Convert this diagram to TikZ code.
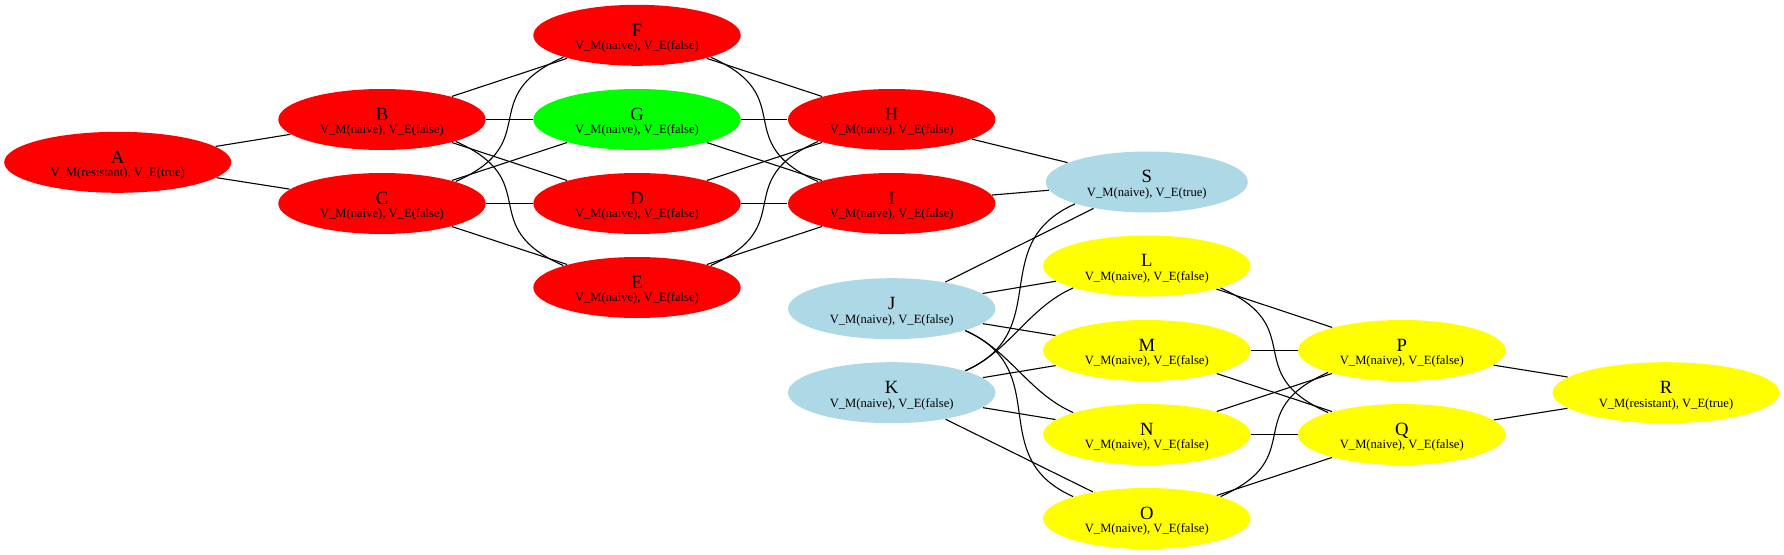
\documentclass[tikz,border=0pt]{standalone}
\usepackage{fontspec}
\setmainfont{Liberation Serif}
\usetikzlibrary{shapes.geometric}
\definecolor{lblue}{HTML}{ADD8E6}
\definecolor{sred}{HTML}{FF0000}
\definecolor{sgreen}{HTML}{00FF00}
\definecolor{syellow}{HTML}{FFFF00}
\newcommand{\smallfnt}{\fontsize{12.6}{13.6}\selectfont}
\begin{document}
\begin{tikzpicture}[x=1pt,y=-1pt,line width=1.1pt,
	st/.style={ellipse, minimum width=207.4pt, minimum height=61pt, inner sep=0pt, align=center,
		font=\fontsize{18.67}{13.6}\selectfont, text height=28.6pt, text depth=0pt},
	wide/.style={minimum width=227pt}]
	\useasboundingbox (0,0) rectangle (1784,554);
	\node (A) at ( 117.7, 162.3)	[st, wide, fill=sred]	{A\\{\smallfnt V\_M(resistant), V\_E(true)}};
	\node (B) at ( 382.0, 119.5)	[st, fill=sred]	{B\\{\smallfnt V\_M(naive), V\_E(false)}};
	\node (C) at ( 382.0, 203.5)	[st, fill=sred]	{C\\{\smallfnt V\_M(naive), V\_E(false)}};
	\node (F) at ( 637.0,  35.3)	[st, fill=sred]	{F\\{\smallfnt V\_M(naive), V\_E(false)}};
	\node (G) at ( 637.0, 119.5)	[st, fill=sgreen]	{G\\{\smallfnt V\_M(naive), V\_E(false)}};
	\node (D) at ( 637.0, 203.5)	[st, fill=sred]	{D\\{\smallfnt V\_M(naive), V\_E(false)}};
	\node (E) at ( 637.0, 287.5)	[st, fill=sred]	{E\\{\smallfnt V\_M(naive), V\_E(false)}};
	\node (H) at ( 891.7, 119.5)	[st, fill=sred]	{H\\{\smallfnt V\_M(naive), V\_E(false)}};
	\node (I) at ( 891.7, 203.5)	[st, fill=sred]	{I\\{\smallfnt V\_M(naive), V\_E(false)}};
	\node (J) at ( 891.7, 308.7)	[st, fill=lblue]	{J\\{\smallfnt V\_M(naive), V\_E(false)}};
	\node (K) at ( 891.7, 392.7)	[st, fill=lblue]	{K\\{\smallfnt V\_M(naive), V\_E(false)}};
	\node (S) at (1146.8, 182.0)	[st, fill=lblue, minimum width=202pt]	{S\\{\smallfnt V\_M(naive), V\_E(true)}};
	\node (L) at (1146.8, 266.0)	[st, fill=syellow]	{L\\{\smallfnt V\_M(naive), V\_E(false)}};
	\node (M) at (1146.8, 350.5)	[st, fill=syellow]	{M\\{\smallfnt V\_M(naive), V\_E(false)}};
	\node (N) at (1146.8, 434.5)	[st, fill=syellow]	{N\\{\smallfnt V\_M(naive), V\_E(false)}};
	\node (O) at (1146.8, 518.5)	[st, fill=syellow]	{O\\{\smallfnt V\_M(naive), V\_E(false)}};
	\node (P) at (1401.8, 350.5)	[st, fill=syellow]	{P\\{\smallfnt V\_M(naive), V\_E(false)}};
	\node (Q) at (1401.8, 434.5)	[st, fill=syellow]	{Q\\{\smallfnt V\_M(naive), V\_E(false)}};
	\node (R) at (1666.0, 392.7)	[st, wide, fill=syellow]	{R\\{\smallfnt V\_M(resistant), V\_E(true)}};
	\draw (A) -- (B);
	\draw (A) -- (C);
	\draw (B) -- (F);
	\draw (B) -- (G);
	\draw (B) -- (D);
	\draw (B.south east) .. controls +(90,40) and +(-90,-40) .. (E.north west);
	\draw (C.north east) .. controls +(90,-40) and +(-90,40) .. (F.south west);
	\draw (C) -- (G);
	\draw (C) -- (D);
	\draw (C) -- (E);
	\draw (F) -- (H);
	\draw (F.south east) .. controls +(90,40) and +(-90,-40) .. (I.north west);
	\draw (G) -- (H);
	\draw (G) -- (I);
	\draw (D) -- (H);
	\draw (D) -- (I);
	\draw (E.north east) .. controls +(90,-40) and +(-90,40) .. (H.south west);
	\draw (E) -- (I);
	\draw (H) -- (S);
	\draw (I) -- (S);
	\draw (J) -- (S);
	\draw (K.north east) .. controls +(90,-40) and +(-90,40) .. (S.south west);
	\draw (J) -- (L);
	\draw (J) -- (M);
	\draw (J.south east) .. controls +(45,20) and +(-45,-20) .. (N.north west);
	\draw (J.south east) .. controls +(90,40) and +(-90,-40) .. (O.north west);
	\draw (K.north east) .. controls +(45,-20) and +(-45,20) .. (L.south west);
	\draw (K) -- (M);
	\draw (K) -- (N);
	\draw (K) -- (O);
	\draw (L) -- (P);
	\draw (L.south east) .. controls +(90,40) and +(-90,-40) .. (Q.north west);
	\draw (M) -- (P);
	\draw (M) -- (Q);
	\draw (N) -- (P);
	\draw (N) -- (Q);
	\draw (O.north east) .. controls +(90,-40) and +(-90,40) .. (P.south west);
	\draw (O) -- (Q);
	\draw (P) -- (R);
	\draw (Q) -- (R);
\end{tikzpicture}
\end{document}
